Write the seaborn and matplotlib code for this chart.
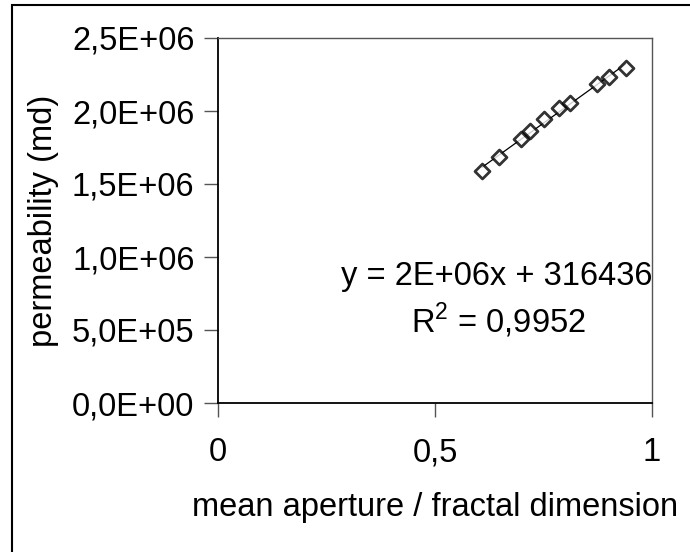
import matplotlib
matplotlib.use("Agg")
import matplotlib.pyplot as plt
import seaborn as sns
import numpy as np
import pandas as pd
from matplotlib.patches import Rectangle
from matplotlib.ticker import FixedLocator

# measured samples
ratio = [0.608, 0.648, 0.698, 0.719, 0.752, 0.786, 0.811, 0.873, 0.900, 0.939]
permeability = [1.591e6, 1.683e6, 1.808e6, 1.865e6, 1.943e6, 2.018e6, 2.053e6, 2.183e6, 2.235e6, 2.292e6]

x_ticks = [0, 0.5, 1]
x_tick_labels = ["0", "0,5", "1"]
y_ticks = [0, 5e5, 1e6, 1.5e6, 2e6, 2.5e6]
y_tick_labels = ["0,0E+00", "5,0E+05", "1,0E+06", "1,5E+06", "2,0E+06", "2,5E+06"]

eq_text = "y = 2E+06x + 316436"
r2_text = "R$^2$ = 0,9952"

df = pd.DataFrame({"ratio": ratio, "permeability": permeability})

sns.set_theme(style="white")
plt.rcParams["font.family"] = ["Liberation Sans", "DejaVu Sans"]
plt.rcParams["mathtext.fontset"] = "custom"
plt.rcParams["mathtext.rm"] = "Liberation Sans"
plt.rcParams["text.color"] = "black"
plt.rcParams["axes.labelcolor"] = "black"

FS = 23.5

fig = plt.figure(figsize=(6.9, 5.52), dpi=100)
ax = fig.add_axes([218 / 690, 1 - 403 / 552, (652 - 218) / 690, (403 - 38) / 552])

sns.regplot(
    data=df, x="ratio", y="permeability", ax=ax, ci=None, marker="D",
    scatter_kws=dict(s=58, facecolors="white", edgecolors="black", linewidths=2.0, zorder=3),
    line_kws=dict(color="black", linewidth=0.9, zorder=2),
)

ax.set_xlim(0, 1)
ax.set_ylim(0, 2.5e6)
ax.xaxis.set_major_locator(FixedLocator(x_ticks))
ax.yaxis.set_major_locator(FixedLocator(y_ticks))
ax.set_xticklabels(x_tick_labels)
ax.set_yticklabels(y_tick_labels)
ax.tick_params(axis="both", direction="out", length=10, width=1, color="#555555",
               labelsize=FS, labelcolor="black", bottom=True, left=True)
ax.tick_params(axis="y", pad=7)
ax.tick_params(axis="x", pad=14.5)

for side in ["left", "bottom"]:
    ax.spines[side].set_color("black")
    ax.spines[side].set_linewidth(1.3)
for side in ["top", "right"]:
    ax.spines[side].set_color("#555555")
    ax.spines[side].set_linewidth(1.0)

ax.set_xlabel("mean aperture / fractal dimension", fontsize=FS, labelpad=17.5)
ax.set_ylabel("permeability (md)", fontsize=FS, labelpad=9)

ax.text(0.643, 0.808e6, eq_text, fontsize=FS, ha="center", va="baseline")
ax.text(0.647, 0.479e6, r2_text, fontsize=FS, ha="center", va="baseline")

# chart area frame
fig.patches.append(Rectangle((12 / 690, -0.05), 1.0, 1 - 5 / 552 + 0.05,
                             transform=fig.transFigure, fill=False,
                             edgecolor="black", linewidth=1.5))

fig.savefig("out.png", dpi=100)
